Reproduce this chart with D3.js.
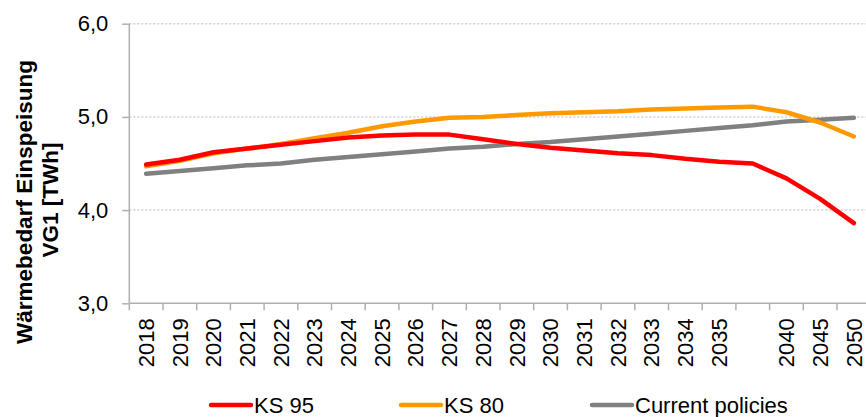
<!DOCTYPE html>
<html>
<head>
<meta charset="utf-8">
<script src="https://cdn.jsdelivr.net/npm/d3@7"></script>
<style>
body { margin: 0; background: #fff; }
text { font-family: "Liberation Sans", Arial, sans-serif; fill: #000; }
</style>
</head>
<body>
<div id="chart"></div>
<script>
// categories (one blank slot between 2035 and 2040, as in the original)
var years = ["2018","2019","2020","2021","2022","2023","2024","2025","2026","2027","2028",
             "2029","2030","2031","2032","2033","2034","2035","","2040","2045","2050"];
var ks95 = [4.49,4.54,4.62,4.66,4.70,4.74,4.78,4.80,4.81,4.81,4.76,4.71,4.67,4.64,4.61,4.59,4.55,4.52,4.50,4.34,4.12,3.86];
var ks80 = [4.47,4.53,4.61,4.66,4.71,4.77,4.83,4.90,4.95,4.99,5.00,5.02,5.04,5.05,5.06,5.08,5.09,5.10,5.11,5.05,4.94,4.79];
var current = [4.39,4.42,4.45,4.48,4.50,4.54,4.57,4.60,4.63,4.66,4.68,4.71,4.73,4.76,4.79,4.82,4.85,4.88,4.91,4.95,4.97,4.99];
var yTicks = [3, 4, 5, 6];
var seriesNames = ["KS 95", "KS 80", "Current policies"];
var seriesColors = ["#ff0000", "#ff9900", "#808080"];

var W = 866, H = 417;
var margin = {top: 23.7, left: 129.3, bottom: 113.7};

var svg = d3.select("#chart").append("svg")
    .attr("width", W)
    .attr("height", H);

var x = d3.scaleBand()
    .domain(d3.range(years.length))
    .range([margin.left, 870.7])
    .paddingInner(0).paddingOuter(0);

var y = d3.scaleLinear()
    .domain([3, 6])
    .range([H - margin.bottom, margin.top]);

// gridlines
svg.append("g")
  .selectAll("line")
  .data(yTicks.filter(function(d) { return d > 3; }))
  .enter().append("line")
    .attr("x1", margin.left)
    .attr("x2", W)
    .attr("y1", function(d) { return y(d); })
    .attr("y2", function(d) { return y(d); })
    .attr("stroke", "#d0d0d0")
    .attr("stroke-width", 1.5)
    .attr("stroke-dasharray", "2,2");

// Y axis
var yAxis = svg.append("g")
    .attr("transform", "translate(" + margin.left + ",0)")
    .call(d3.axisLeft(y).tickValues(yTicks).tickSize(7).tickPadding(14)
      .tickFormat(function(d) { return d3.format(".1f")(d).replace(".", ","); }));
yAxis.selectAll("path, line").attr("stroke", "#b0b0b0").attr("stroke-width", 1.5);
yAxis.select(".domain").attr("d", "M0," + y(6) + "V" + y(3));
yAxis.selectAll("text")
    .style("font-size", "22px")
    .style("font-family", "'Liberation Sans', Arial, sans-serif");

// X axis
var xAxis = svg.append("g")
    .attr("transform", "translate(0," + y(3) + ")");
xAxis.append("line")
    .attr("x1", margin.left).attr("x2", W)
    .attr("stroke", "#b0b0b0").attr("stroke-width", 1.5);
xAxis.selectAll("line.tick")
  .data(d3.range(years.length))
  .enter().append("line")
    .attr("class", "tick")
    .attr("x1", function(i) { return x(i); })
    .attr("x2", function(i) { return x(i); })
    .attr("y1", 0).attr("y2", 7)
    .attr("stroke", "#b0b0b0").attr("stroke-width", 1.5);
xAxis.selectAll("text")
  .data(d3.range(years.length))
  .enter().append("text")
    .attr("transform", function(i) {
      return "translate(" + (x(i) + x.bandwidth() / 2) + ",15) rotate(-90)";
    })
    .attr("dy", "0.35em")
    .attr("text-anchor", "end")
    .style("font-size", "22px")
    .text(function(i) { return years[i]; });

// Y title
var title = svg.append("text")
    .attr("transform", "rotate(-90)")
    .attr("text-anchor", "middle")
    .style("font-size", "22.5px")
    .style("font-weight", "bold");
title.append("tspan").attr("x", -202).attr("y", 24).attr("dy", "0.35em").text("Wärmebedarf Einspeisung");
title.append("tspan").attr("x", -200).attr("y", 50).attr("dy", "0.35em").text("VG1 [TWh]");

// lines
var line = d3.line()
    .x(function(d, i) { return x(i) + x.bandwidth() / 2; })
    .y(function(d) { return y(d); });

var allSeries = [current, ks80, ks95];
var drawColors = [seriesColors[2], seriesColors[1], seriesColors[0]];
svg.append("g")
  .selectAll("path")
  .data(allSeries)
  .enter().append("path")
    .attr("d", line)
    .attr("fill", "none")
    .attr("stroke", function(d, i) { return drawColors[i]; })
    .attr("stroke-width", 4.5)
    .attr("stroke-linejoin", "round")
    .attr("stroke-linecap", "round");

// legend
var legendX = [211, 401, 592];
var leg = svg.append("g")
  .selectAll("g")
  .data(seriesNames)
  .enter().append("g")
    .attr("transform", function(d, i) { return "translate(" + legendX[i] + ",405)"; });
leg.append("line")
    .attr("x1", 0).attr("x2", 40)
    .attr("stroke", function(d, i) { return seriesColors[i]; })
    .attr("stroke-width", 4.5)
    .attr("stroke-linecap", "round");
leg.append("text")
    .attr("x", 43)
    .attr("dy", "0.36em")
    .style("font-size", "22px")
    .text(function(d) { return d; });
</script>
</body>
</html>
